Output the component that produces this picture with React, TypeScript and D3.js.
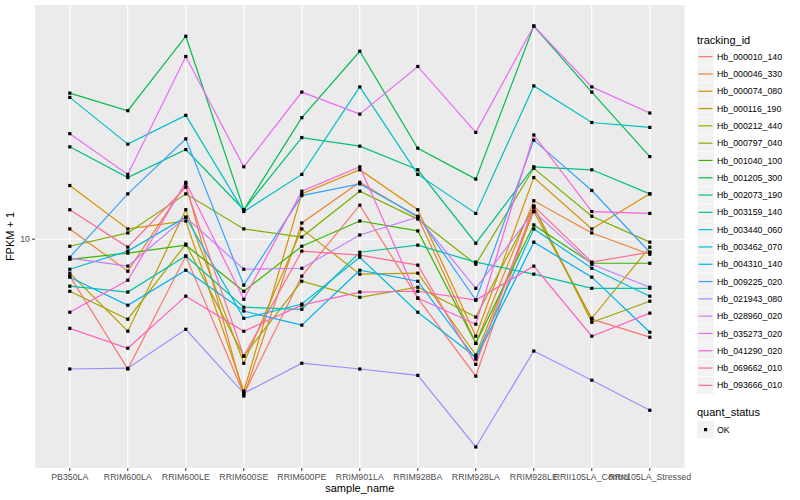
import * as d3 from 'd3'

const categories = [
  'PB350LA',
  'RRIM600LA',
  'RRIM600LE',
  'RRIM600SE',
  'RRIM600PE',
  'RRIM901LA',
  'RRIM928BA',
  'RRIM928LA',
  'RRIM928LE',
  'RRII105LA_Control',
  'RRII105LA_Stressed',
]

// FPKM + 1, one value per sample_name
const hb000010_140 = [8.39, 5.4, 9.23, 4.79, 8.39, 11.75, 7.56, 5.22, 11.6, 6.84, 6.28]
const hb000046_330 = [10.5, 8.59, 13.0, 4.75, 10.8, 13.1, 11.1, 6.1, 12.0, 10.3, 9.31]
const hb000074_080 = [12.9, 10.5, 10.9, 4.86, 12.4, 13.9, 11.5, 6.31, 13.4, 10.5, 12.4]
const hb000116_190 = [8.51, 6.46, 11.5, 5.55, 10.5, 8.47, 8.51, 5.77, 11.4, 6.87, 9.63]
const hb000212_440 = [7.81, 6.84, 9.77, 5.74, 8.19, 7.59, 7.96, 6.91, 11.7, 6.74, 7.45]
const hb000797_040 = [9.67, 10.3, 12.4, 10.5, 10.1, 12.56, 11.0, 8.88, 14.0, 11.15, 9.86]
const hb001040_100 = [9.09, 9.36, 9.72, 7.81, 9.67, 10.9, 10.4, 6.1, 10.7, 8.92, 8.92]
const hb001205_300 = [20.0, 18.4, 26.2, 11.5, 17.8, 24.4, 15.4, 13.3, 27.5, 20.1, 14.8]
const hb002073_190 = [15.5, 13.4, 15.3, 11.5, 16.2, 15.55, 13.9, 9.81, 14.1, 13.9, 12.4]
const hb003159_140 = [8.0, 7.78, 9.23, 7.24, 7.17, 9.4, 9.72, 8.97, 8.47, 7.92, 7.92]
const hb003440_060 = [19.6, 15.7, 18.0, 11.4, 13.6, 20.6, 13.6, 11.3, 20.7, 17.4, 17.0]
const hb003462_070 = [8.67, 9.45, 11.1, 6.87, 7.35, 9.18, 7.07, 5.71, 10.5, 8.71, 7.63]
const hb004310_140 = [8.35, 7.31, 8.63, 7.11, 6.65, 8.63, 8.19, 5.66, 9.86, 8.35, 6.43]
const hb009225_020 = [9.18, 12.4, 16.1, 8.04, 12.3, 13.0, 11.15, 7.49, 16.0, 12.6, 9.4]
const hb021943_080 = [5.4, 5.42, 6.52, 4.81, 5.55, 5.4, 5.24, 3.73, 5.88, 5.12, 4.44]
const hb028960_020 = [9.14, 8.8, 11.1, 8.67, 8.71, 10.2, 11.1, 7.92, 11.4, 8.88, 7.96]
const hb035273_020 = [16.5, 13.6, 23.8, 14.1, 20.1, 18.1, 22.7, 16.6, 27.5, 20.6, 18.2]
const hb041290_020 = [7.07, 8.23, 13.1, 7.52, 12.56, 14.1, 7.56, 6.68, 16.4, 11.4, 11.3]
const hb069662_010 = [6.55, 5.96, 7.63, 6.46, 7.31, 7.78, 7.81, 7.49, 8.8, 6.31, 7.04]
const hb093666_010 = [11.5, 9.63, 12.8, 5.74, 9.45, 9.27, 8.84, 5.52, 11.7, 8.97, 9.4]

const trackingIds = [
  'Hb_000010_140',
  'Hb_000046_330',
  'Hb_000074_080',
  'Hb_000116_190',
  'Hb_000212_440',
  'Hb_000797_040',
  'Hb_001040_100',
  'Hb_001205_300',
  'Hb_002073_190',
  'Hb_003159_140',
  'Hb_003440_060',
  'Hb_003462_070',
  'Hb_004310_140',
  'Hb_009225_020',
  'Hb_021943_080',
  'Hb_028960_020',
  'Hb_035273_020',
  'Hb_041290_020',
  'Hb_069662_010',
  'Hb_093666_010',
]

const seriesValues = [
  hb000010_140, hb000046_330, hb000074_080, hb000116_190, hb000212_440,
  hb000797_040, hb001040_100, hb001205_300, hb002073_190, hb003159_140,
  hb003440_060, hb003462_070, hb004310_140, hb009225_020, hb021943_080,
  hb028960_020, hb035273_020, hb041290_020, hb069662_010, hb093666_010,
]

const yTicks = [10]
const quantStatus = ['OK']

// default ggplot hue palette for 20 levels
const palette = [
  '#F8766D', '#EA8331', '#D89000', '#C09B00', '#A3A500',
  '#7CAE00', '#39B600', '#00BB4E', '#00BF7D', '#00C1A3',
  '#00BFC4', '#00BAE0', '#00B0F6', '#35A2FF', '#9590FF',
  '#C77CFF', '#E76BF3', '#FA62DB', '#FF62BC', '#FF6C91',
]

export default function App() {
  const width = 800
  const height = 500
  const panel = { left: 35, right: 684.6, top: 5, bottom: 468 }

  const x = d3
    .scalePoint<string>()
    .domain(categories)
    .range([panel.left, panel.right])
    .padding(0.6)

  const all = seriesValues.flat()
  const lo = Math.log10(d3.min(all) as number)
  const hi = Math.log10(d3.max(all) as number)
  const pad = (hi - lo) * 0.05
  const y = d3
    .scaleLog()
    .domain([Math.pow(10, lo - pad), Math.pow(10, hi + pad)])
    .range([panel.bottom, panel.top])

  const line = d3
    .line<number>()
    .x((_, i) => x(categories[i]) as number)
    .y((d) => y(d))

  const font = "'Liberation Sans', Arial, Helvetica, sans-serif"
  const keyH = 17.3
  const keyTop = 48

  return (
    <svg
      width={width}
      height={height}
      style={{ position: 'fixed', left: 0, top: 0, background: '#fff' }}
      fontFamily={font}
    >
      <rect
        x={panel.left}
        y={panel.top}
        width={panel.right - panel.left}
        height={panel.bottom - panel.top}
        fill="#EBEBEB"
      />
      {yTicks.map((t) => (
        <line
          key={`gy-${t}`}
          x1={panel.left}
          x2={panel.right}
          y1={y(t)}
          y2={y(t)}
          stroke="#fff"
          strokeWidth={1.1}
        />
      ))}
      {categories.map((c) => (
        <line
          key={`gx-${c}`}
          x1={x(c)}
          x2={x(c)}
          y1={panel.top}
          y2={panel.bottom}
          stroke="#fff"
          strokeWidth={1.1}
        />
      ))}

      {seriesValues.map((vals, i) => (
        <path
          key={`line-${trackingIds[i]}`}
          d={line(vals) || ''}
          fill="none"
          stroke={palette[i]}
          strokeWidth={1.2}
        />
      ))}
      {seriesValues.map((vals, i) => (
        <g key={`pts-${trackingIds[i]}`}>
          {vals.map((v, j) => (
            <rect
              key={j}
              x={(x(categories[j]) as number) - 1.6}
              y={y(v) - 1.6}
              width={3.2}
              height={3.2}
              fill="#000"
            />
          ))}
        </g>
      ))}

      {/* x axis */}
      {categories.map((c) => (
        <g key={`xt-${c}`} transform={`translate(${x(c)},${panel.bottom})`}>
          <line y1={0} y2={3} stroke="#333" strokeWidth={1} />
          <text y={12} textAnchor="middle" fontSize={8.8} fill="#4D4D4D">
            {c}
          </text>
        </g>
      ))}
      <text
        x={(panel.left + panel.right) / 2}
        y={492}
        textAnchor="middle"
        fontSize={11}
        fill="#000"
      >
        sample_name
      </text>

      {/* y axis */}
      {yTicks.map((t) => (
        <g key={`yt-${t}`} transform={`translate(${panel.left},${y(t)})`}>
          <line x1={-3} x2={0} stroke="#333" strokeWidth={1} />
          <text x={-5} dy="0.35em" textAnchor="end" fontSize={8.8} fill="#4D4D4D">
            {t}
          </text>
        </g>
      ))}
      <text
        transform={`translate(14,${(panel.top + panel.bottom) / 2}) rotate(-90)`}
        textAnchor="middle"
        fontSize={11}
        fill="#000"
      >
        FPKM + 1
      </text>

      {/* legend: tracking_id */}
      <text x={697} y={keyTop - 4} fontSize={11} fill="#000">
        tracking_id
      </text>
      {trackingIds.map((id, i) => {
        const ky = keyTop + i * keyH
        return (
          <g key={`lg-${id}`}>
            <rect x={697} y={ky} width={17} height={keyH} fill="#F2F2F2" stroke="#fff" strokeWidth={0.5} />
            <line x1={698.5} x2={712.5} y1={ky + keyH / 2} y2={ky + keyH / 2} stroke={palette[i]} strokeWidth={1.2} />
            <text x={717} y={ky + keyH / 2} dy="0.35em" fontSize={8.8} fill="#000">
              {id}
            </text>
          </g>
        )
      })}

      {/* legend: quant_status */}
      <text x={697} y={416} fontSize={11} fill="#000">
        quant_status
      </text>
      {quantStatus.map((s, i) => {
        const ky = 421 + i * keyH
        return (
          <g key={`qs-${s}`}>
            <rect x={697} y={ky} width={17} height={keyH} fill="#F2F2F2" />
            <rect x={704} y={ky + keyH / 2 - 1.6} width={3.2} height={3.2} fill="#000" />
            <text x={717} y={ky + keyH / 2} dy="0.35em" fontSize={8.8} fill="#000">
              {s}
            </text>
          </g>
        )
      })}
    </svg>
  )
}
